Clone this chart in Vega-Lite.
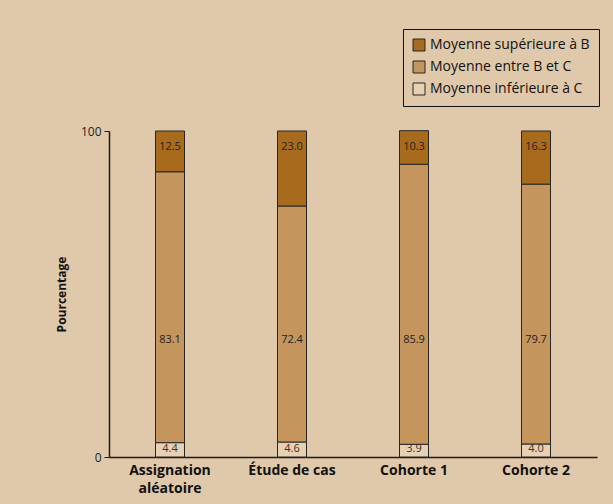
{
  "$schema": "https://vega.github.io/schema/vega-lite/v6.json",
  "width": 488,
  "height": 326,
  "autosize": "none",
  "padding": {"left": 109, "top": 131, "right": 16, "bottom": 47},
  "background": "#E0C8AA",
  "config": {
    "view": {"stroke": null},
    "font": "Open Sans"
  },
  "data": {
    "values": [
      {"groupe": "Assignation aléatoire", "categorie": "Moyenne inférieure à C", "ordre": 1, "pct": 4.4},
      {"groupe": "Assignation aléatoire", "categorie": "Moyenne entre B et C", "ordre": 2, "pct": 83.1},
      {"groupe": "Assignation aléatoire", "categorie": "Moyenne supérieure à B", "ordre": 3, "pct": 12.5},
      {"groupe": "Étude de cas", "categorie": "Moyenne inférieure à C", "ordre": 1, "pct": 4.6},
      {"groupe": "Étude de cas", "categorie": "Moyenne entre B et C", "ordre": 2, "pct": 72.4},
      {"groupe": "Étude de cas", "categorie": "Moyenne supérieure à B", "ordre": 3, "pct": 23.0},
      {"groupe": "Cohorte 1", "categorie": "Moyenne inférieure à C", "ordre": 1, "pct": 3.9},
      {"groupe": "Cohorte 1", "categorie": "Moyenne entre B et C", "ordre": 2, "pct": 85.9},
      {"groupe": "Cohorte 1", "categorie": "Moyenne supérieure à B", "ordre": 3, "pct": 10.3},
      {"groupe": "Cohorte 2", "categorie": "Moyenne inférieure à C", "ordre": 1, "pct": 4.0},
      {"groupe": "Cohorte 2", "categorie": "Moyenne entre B et C", "ordre": 2, "pct": 79.7},
      {"groupe": "Cohorte 2", "categorie": "Moyenne supérieure à B", "ordre": 3, "pct": 16.3}
    ]
  },
  "encoding": {
    "x": {
      "field": "groupe",
      "type": "nominal",
      "sort": ["Assignation aléatoire", "Étude de cas", "Cohorte 1", "Cohorte 2"],
      "scale": {"paddingInner": 0, "paddingOuter": 0},
      "axis": {
        "title": null,
        "labelAngle": 0,
        "ticks": false,
        "domainColor": "#1a1a1a",
        "domainWidth": 1.5,
        "labelFont": "Open Sans",
        "labelFontWeight": "bold",
        "labelFontSize": 14,
        "labelColor": "#111111",
        "labelPadding": 6,
        "labelLineHeight": 18,
        "labelExpr": "datum.label == 'Assignation aléatoire' ? ['Assignation', 'aléatoire'] : datum.label"
      }
    }
  },
  "layer": [
    {
      "mark": {"type": "bar", "width": 29, "stroke": "#262626", "strokeWidth": 1},
      "encoding": {
        "y": {
          "field": "pct",
          "type": "quantitative",
          "stack": "zero",
          "scale": {"domain": [0, 100], "nice": false},
          "axis": {
            "values": [0, 100],
            "title": "Pourcentage",
            "titleFont": "Open Sans",
            "titleFontSize": 12,
            "titleFontWeight": "bold",
            "titleColor": "#111111",
            "titlePadding": 12,
            "grid": false,
            "domainColor": "#1a1a1a",
            "domainWidth": 1.5,
            "tickColor": "#1a1a1a",
            "tickSize": 5,
            "labelFontSize": 12,
            "labelColor": "#222222",
            "labelPadding": 3
          }
        },
        "order": {"field": "ordre", "type": "quantitative"},
        "color": {
          "field": "categorie",
          "type": "nominal",
          "scale": {
            "domain": ["Moyenne supérieure à B", "Moyenne entre B et C", "Moyenne inférieure à C"],
            "range": ["#A86A1C", "#C4955C", "#E8D1B2"]
          },
          "legend": {
            "title": null,
            "orient": "none",
            "legendX": 294,
            "legendY": -102,
            "symbolType": "square",
            "symbolSize": 144,
            "symbolStrokeColor": "#262626",
            "symbolStrokeWidth": 1,
            "labelFontSize": 14,
            "labelColor": "#111111",
            "labelFont": "Open Sans",
            "labelOffset": 4,
            "rowPadding": 6,
            "padding": 9,
            "strokeColor": "#111111",
            "fillColor": "#E0C8AA",
            "labelLimit": 300
          }
        }
      }
    },
    {
      "transform": [{"filter": "datum.ordre == 3"}],
      "mark": {"type": "text", "fontSize": 11, "color": "#222222", "baseline": "middle"},
      "encoding": {"y": {"datum": 95}, "text": {"field": "pct", "type": "quantitative", "format": ".1f"}}
    },
    {
      "transform": [{"filter": "datum.ordre == 2"}],
      "mark": {"type": "text", "fontSize": 11, "color": "#222222", "baseline": "middle"},
      "encoding": {"y": {"datum": 36}, "text": {"field": "pct", "type": "quantitative", "format": ".1f"}}
    },
    {
      "transform": [{"filter": "datum.ordre == 1"}],
      "mark": {"type": "text", "fontSize": 11, "color": "#333333", "baseline": "middle"},
      "encoding": {"y": {"datum": 2.4}, "text": {"field": "pct", "type": "quantitative", "format": ".1f"}}
    }
  ]
}
